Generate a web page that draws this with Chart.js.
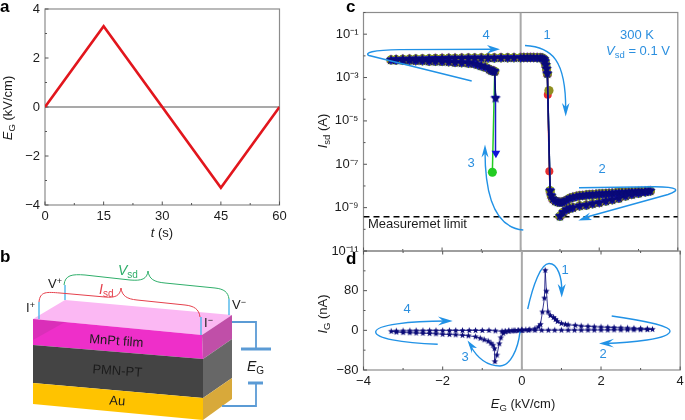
<!DOCTYPE html>
<html>
<head>
<meta charset="utf-8">
<script src="https://cdn.jsdelivr.net/npm/chart.js@4"></script>
<style>
  html, body { margin: 0; padding: 0; background: #fff; overflow: hidden; }
  #page { position: relative; width: 685px; height: 420px; font-family: "Liberation Sans", sans-serif; }
  #page canvas, #page svg { position: absolute; left: 0; top: 0; }
  text { font-family: "Liberation Sans", sans-serif; font-size: 13px; fill: #1c1c1c; }
  .lab { font-weight: bold; font-size: 17px; fill: #000; }
  .blue text, text.blue { fill: #2b8fdf; }
  .arrow { fill: none; stroke: #2192e6; stroke-width: 1.4; }
  .head { fill: #2192e6; stroke: none; }
  .wire { fill: none; stroke: #5b9bd5; stroke-width: 1.8; }
  .plate { fill: none; stroke: #5b9bd5; stroke-width: 3; }
  .lead { stroke: #4db6ea; stroke-width: 1.4; }
</style>
</head>
<body>
<div id="page">
  <canvas id="chartA" width="685" height="420"></canvas>
  <canvas id="chartC" width="685" height="420"></canvas>
  <canvas id="chartD" width="685" height="420"></canvas>

  <svg width="685" height="420" viewBox="0 0 685 420">
    <!-- panel letters -->
    <text class="lab" x="0" y="12">a</text>
    <text class="lab" x="0" y="262">b</text>
    <text class="lab" x="346" y="12">c</text>
    <text class="lab" x="346" y="264">d</text>

    <!-- axis titles -->
    <text x="162" y="237" text-anchor="middle"><tspan font-style="italic">t</tspan> (s)</text>
    <text transform="translate(12,108) rotate(-90)" text-anchor="middle"><tspan font-style="italic">E</tspan><tspan dy="3" font-size="9.5">G</tspan><tspan dy="-3"> (kV/cm)</tspan></text>
    <text transform="translate(327,131) rotate(-90)" text-anchor="middle"><tspan font-style="italic">I</tspan><tspan dy="3" font-size="9.5">sd</tspan><tspan dy="-3"> (A)</tspan></text>
    <text transform="translate(327,314) rotate(-90)" text-anchor="middle"><tspan font-style="italic">I</tspan><tspan dy="3" font-size="9.5">G</tspan><tspan dy="-3"> (nA)</tspan></text>
    <text x="523" y="408" text-anchor="middle"><tspan font-style="italic">E</tspan><tspan dy="3" font-size="9.5">G</tspan><tspan dy="-3"> (kV/cm)</tspan></text>

    <!-- panel b: device sketch -->
    <polygon points="33,319 65,300 232,315 202,335" fill="#fbb8f3"/>
    <polygon points="33,319 202,335 203,359 33,345" fill="#ee2fc9"/>
    <polygon points="202,335 232,315 232,339 203,359" fill="#c04fa8"/>
    <polygon points="33,340 65,322 202,335 33,319" fill="#a0308c" opacity="0.25"/>
    <polygon points="33,345 203,359 203,398 33,383" fill="#444444"/>
    <polygon points="203,359 232,339 232,378 203,398" fill="#676767"/>
    <polygon points="33,383 203,398 203,420 33,404" fill="#ffc300"/>
    <polygon points="203,398 232,378 232,399 203,420" fill="#d8a93a"/>

    <line class="lead" x1="39" y1="319" x2="39" y2="302"/>
    <line class="lead" x1="65" y1="300" x2="65" y2="285"/>
    <line class="lead" x1="201" y1="335" x2="201" y2="317"/>
    <line class="lead" x1="229" y1="315" x2="229" y2="299"/>

    <path d="M39 302 C40 291 47 292 60 293 L105 297 C115 298 120 296 121 288 C122 296 127 299 137 300 L185 305 C194 306 199 309 200 317" fill="none" stroke="#e5404c" stroke-width="1"/>
    <path d="M64 285 C65 275 72 274 85 275 L130 280 C142 281 147 279 148 271 C149 279 154 282 165 283 L215 288 C224 289 228 292 229 299" fill="none" stroke="#2fae6a" stroke-width="1"/>

    <text x="118" y="275" fill="#2fae6a" style="fill:#2fae6a;font-size:14px"><tspan font-style="italic">V</tspan><tspan dy="3" font-size="10">sd</tspan></text>
    <text x="99" y="294" style="fill:#e5404c;font-size:14px"><tspan font-style="italic">I</tspan><tspan dy="3" font-size="10">sd</tspan></text>
    <text x="48" y="288">V<tspan dy="-4" font-size="9">+</tspan></text>
    <text x="26" y="312">I<tspan dy="-4" font-size="9">+</tspan></text>
    <text x="204" y="327">I<tspan dy="-4" font-size="9">−</tspan></text>
    <text x="232" y="309">V<tspan dy="-4" font-size="9">−</tspan></text>
    <text transform="translate(116,345) rotate(4)" text-anchor="middle">MnPt film</text>
    <text transform="translate(117,375) rotate(4)" text-anchor="middle">PMN-PT</text>
    <text transform="translate(117,405) rotate(4)" text-anchor="middle">Au</text>

    <path class="wire" d="M232 322 H256 V349"/>
    <path class="plate" d="M241 349 H271"/>
    <path class="plate" d="M248 383 H263"/>
    <path class="wire" d="M256 383 V406 H222"/>
    <text x="247" y="371" style="font-size:14px"><tspan font-style="italic">E</tspan><tspan dy="3" font-size="10">G</tspan></text>

    <!-- panel c: sweep arrows -->
    <path class="arrow" d="M525 45.5 C552 47 566 60 565.7 110"/>
    <polygon class="head" points="565.7,116.5 562,103 565.7,107 569.5,103"/>
    <path class="arrow" d="M471.7 81 L369 55.5 C364 53 372 50 400 49.6 L495 49.3"/>
    <polygon class="head" points="500,49.3 487,45 491,49.3 487,53.5"/>
    <path class="arrow" d="M579 187.7 L655 186.8 C678 187 681 190 668 194.5 L585 217.5"/>
    <polygon class="head" points="578.3,220.5 590,212.5 587,217 592,220"/>
    <path class="arrow" d="M523.3 230 C500 228 485 205 485 151"/>
    <polygon class="head" points="485,144.5 481.5,157.5 485,153.5 488.5,157.5"/>
    <g class="blue">
      <text x="547" y="39" text-anchor="middle">1</text>
      <text x="486" y="39" text-anchor="middle">4</text>
      <text x="602" y="173" text-anchor="middle">2</text>
      <text x="471" y="167" text-anchor="middle">3</text>
      <text x="637" y="39" text-anchor="middle">300 K</text>
      <text x="638" y="55" text-anchor="middle"><tspan font-style="italic">V</tspan><tspan dy="3" font-size="9.5">sd</tspan><tspan dy="-3"> = 0.1 V</tspan></text>
    </g>
    <text x="368" y="228">Measuremet limit</text>

    <!-- panel d: sweep arrows -->
    <path class="arrow" d="M527.7 309 C533 285 541 263.5 549 263.5 C558 263.5 562 278 561.7 291"/>
    <polygon class="head" points="561.7,297.5 557.7,284 561.7,288 565.7,284"/>
    <path class="arrow" d="M611.7 316 C640 320 670 326 670 331 C670 339 630 343 605 343.5"/>
    <polygon class="head" points="599,343.5 614,338.7 608,343.5 614,347.5"/>
    <path class="arrow" d="M437.7 344.3 C400 343 375.7 338 375.7 332 C375.7 325 410 321 446 321"/>
    <polygon class="head" points="452.7,321 438,316.5 443,321 438,325.5"/>
    <path class="arrow" d="M520 331.7 C518 350 510 366 500 366 C485 366 476 356 470 345"/>
    <polygon class="head" points="467.5,340.5 477,348 472,347.5 472,353.5"/>
    <g class="blue">
      <text x="565" y="274" text-anchor="middle">1</text>
      <text x="603" y="358" text-anchor="middle">2</text>
      <text x="465" y="361" text-anchor="middle">3</text>
      <text x="407" y="313" text-anchor="middle">4</text>
    </g>
  </svg>
</div>

<script>
// panel a: gate field against time
const timeS = [0, 15, 45, 60];
const fieldKv = [0, 3.3, -3.3, 0];
const zeroT = [0, 60];
const zeroE = [0, 0];

// panel c: I_sd loop, written as one continuous path
// lower left arm, going out to -3.3
const backE = [-0.66, -0.7, -0.75, -0.8, -0.9, -1, -1.1, -1.2, -1.33, -1.5, -1.67, -1.83, -2, -2.17, -2.33, -2.5, -2.67, -2.83, -3, -3.17, -3.3];
const backI = [1.9e-3, 2.0e-3, 2.1e-3, 2.4e-3, 3e-3, 3.4e-3, 3.9e-3, 4.4e-3, 4.6e-3, 4.8e-3, 5e-3, 5.3e-3, 5.5e-3, 5.6e-3, 5.7e-3, 5.9e-3, 6e-3, 6.2e-3, 6.3e-3, 6.4e-3, 6.5e-3];
// top plateau, from -3.3 across zero to the drop
const topE = [-3.17, -3, -2.83, -2.67, -2.5, -2.33, -2.17, -2, -1.83, -1.67, -1.5, -1.33, -1.17, -1, -0.83, -0.67, -0.5, -0.33, -0.17, 0, 0.08, 0.17, 0.25, 0.33, 0.42, 0.5, 0.55, 0.6, 0.62, 0.64, 0.66, 0.68];
const topI = [6.7e-3, 6.9e-3, 7e-3, 7.1e-3, 7.2e-3, 7.3e-3, 7.5e-3, 7.6e-3, 7.7e-3, 7.7e-3, 7.8e-3, 7.9e-3, 7.9e-3, 8e-3, 8e-3, 8e-3, 8.1e-3, 8.1e-3, 8.2e-3, 8.2e-3, 8.3e-3, 8.3e-3, 8.3e-3, 8.3e-3, 8.2e-3, 8.1e-3, 7.9e-3, 7e-3, 5.5e-3, 3.8e-3, 2.5e-3, 1.5e-3];
// low branch after the drop: out to 3.3 and back to 1.0
const lowE = [0.75, 0.78, 0.82, 0.88, 0.95, 1, 1.05, 1.1, 1.17, 1.25, 1.33, 1.42, 1.5, 1.58, 1.67, 1.75, 1.83, 1.92, 2, 2.08, 2.17, 2.25, 2.33, 2.42, 2.5, 2.58, 2.67, 2.75, 2.83, 2.92, 3, 3.08, 3.17, 3.25, 3.3, 3.17, 3, 2.83, 2.67, 2.5, 2.33, 2.17, 2, 1.83, 1.67, 1.5, 1.33, 1.25, 1.17, 1.08, 1];
const lowI = [6e-9, 3.5e-9, 2.5e-9, 2e-9, 1.8e-9, 1.75e-9, 1.75e-9, 1.9e-9, 2.2e-9, 2.7e-9, 3e-9, 3.3e-9, 3.5e-9, 3.6e-9, 3.8e-9, 3.9e-9, 4e-9, 4.1e-9, 4.2e-9, 4.3e-9, 4.4e-9, 4.5e-9, 4.6e-9, 4.7e-9, 4.8e-9, 4.9e-9, 5e-9, 5.1e-9, 5.2e-9, 5.3e-9, 5.4e-9, 5.5e-9, 5.6e-9, 5.8e-9, 5.9e-9, 5.3e-9, 4.6e-9, 4e-9, 3.4e-9, 2.7e-9, 2.3e-9, 2e-9, 1.7e-9, 1.5e-9, 1.3e-9, 1.2e-9, 1e-9, 9.3e-10, 8e-10, 6e-10, 4e-10];
// points only one trace has inside the two drops
const starDropE = [-0.64];
const starDropI = [1.1e-4];
const blueDropE = [-0.63, -0.64];
const blueDropI = [3.2e-7, 1.1e-4];
const greenDropE = [-0.72];
const greenDropI = [4.3e-8];
const redDropE = [0.69, 0.73];
const redDropI = [1.6e-4, 4.8e-8];
const oliveDropE = [0.72];
const oliveDropI = [2.5e-4];
const limitE = [-4, 4];
const limitI = [3.8e-10, 3.8e-10];
const axisLineI = [1e-11, 1];
const axisLineE = [0, 0];

// panel d: I_G stars
const gateE = [0, 0.1, 0.2, 0.33, 0.42, 0.47, 0.52, 0.57, 0.59, 0.62, 0.66, 0.72, 0.8, 0.85, 0.9, 1, 1.1, 1.17, 1.35, 1.5, 1.67, 1.83, 2, 2.17, 2.33, 2.5, 2.67, 2.83, 3, 3.17, 3.3, 3.17, 3, 2.83, 2.67, 2.5, 2.33, 2.17, 2, 1.83, 1.67, 1.5, 1.33, 1.17, 1, 0.83, 0.67, 0.5, 0.33, 0.17, 0, -0.1, -0.2, -0.33, -0.42, -0.47, -0.53, -0.57, -0.63, -0.68, -0.69, -0.73, -0.78, -0.85, -0.95, -1.05, -1.17, -1.35, -1.5, -1.67, -1.83, -2, -2.17, -2.33, -2.5, -2.67, -2.83, -3, -3.17, -3.3, -3.17, -3, -2.83, -2.67, -2.5, -2.33, -2.17, -2, -1.83, -1.67, -1.5, -1.33, -1.17, -1, -0.83, -0.67, -0.5, -0.42, -0.33, -0.25, -0.17, -0.08, 0];
const gateI = [0.5, 1, 1.5, 3, 7, 12, 37, 65, 121, 79, 37, 30, 26, 22, 18, 14, 12, 11, 10, 8.5, 8, 7, 6.5, 6, 5.5, 5, 4.5, 4, 3.5, 2.8, 2, 1.5, 1.2, 1, 1, 0.8, 0.8, 0.6, 0.6, 0.5, 0.5, 0.4, 0.4, 0.3, 0.3, 0.2, 0.2, 0.2, 0.1, 0.1, 0, -0.3, -0.6, -1.2, -3, -6, -15, -27, -50, -63, -37, -30, -26, -22, -19, -16, -13, -11, -10, -9, -8.5, -8, -7, -6.5, -6, -5.5, -5, -4.5, -3.5, -2, -1.5, -1.2, -1, -0.8, -0.8, -0.6, -0.6, -0.5, -0.5, -0.4, -0.4, -0.3, -0.3, -0.3, -0.2, -1, -2, -2, -1.5, -1, -0.8, -0.4, 0];
const gateLineE = [0, 0];
const gateLineI = [-80, 160];

// tick lists
const aXMajor = [0, 15, 30, 45, 60];
const aXMinor = [7.5, 22.5, 37.5, 52.5];
const aYMajor = [-4, -2, 0, 2, 4];
const aYMinor = [-3, -1, 1, 3];
const eMajor = [-4, -2, 0, 2, 4];
const eMinor = [-3, -1, 1, 3];
const cYMajor = [1e-1, 1e-3, 1e-5, 1e-7, 1e-9, 1e-11];
const cYMinor = [1, 1e-2, 1e-4, 1e-6, 1e-8, 1e-10];
const cYLabels = ["10⁻¹", "10⁻³", "10⁻⁵", "10⁻⁷", "10⁻⁹", "10⁻¹¹"];
const dYMajor = [-80, 0, 80, 160];
const dYMinor = [-40, 40, 120];

function pts(es, vs) {
    return es.map((e, i) => ({ x: e, y: vs[i] }));
}

// one trace of the loop: left drop, back arm, top plateau, right drop, low branch
function loopTrace(leftE, leftI, rightE, rightI) {
    return [...pts(leftE, leftI), ...pts(backE, backI), ...pts(topE, topI), ...pts(rightE, rightI), ...pts(lowE, lowI)];
}

// chart.js "star" is an asterisk, the figure has five pointed ones
function starImage(r, color) {
    const size = Math.ceil(r * 2) + 2;
    const c = document.createElement("canvas");
    c.width = size;
    c.height = size;
    const ctx = c.getContext("2d");
    ctx.fillStyle = color;
    ctx.beginPath();
    for (let i = 0; i < 10; i++) {
        const rad = i % 2 === 0 ? r : r * 0.42;
        const a = -Math.PI / 2 + i * Math.PI / 5;
        const px = size / 2 + rad * Math.cos(a);
        const py = size / 2 + rad * Math.sin(a);
        if (i === 0) ctx.moveTo(px, py); else ctx.lineTo(px, py);
    }
    ctx.closePath();
    ctx.fill();
    return c;
}

// frame and inward ticks, the figure has ticks inside the box
const frameTicks = {
    id: "frameTicks",
    beforeDatasetsDraw(chart, args, opts) {
        const { ctx, chartArea: area, scales } = chart;
        ctx.save();
        ctx.strokeStyle = "#8c8c8c";
        ctx.lineWidth = 1.2;
        ctx.strokeRect(area.left, area.top, area.right - area.left, area.bottom - area.top);
        ctx.strokeStyle = "#555";
        ctx.lineWidth = 1;
        const xTick = (v, len) => {
            const px = scales.x.getPixelForValue(v);
            ctx.beginPath();
            ctx.moveTo(px, area.bottom);
            ctx.lineTo(px, area.bottom - len);
            if (opts.topTicks) {
                ctx.moveTo(px, area.top);
                ctx.lineTo(px, area.top + len);
            }
            ctx.stroke();
        };
        const yTick = (v, len) => {
            const py = scales.y.getPixelForValue(v);
            ctx.beginPath();
            ctx.moveTo(area.left, py);
            ctx.lineTo(area.left + len, py);
            ctx.stroke();
        };
        opts.xMajor.forEach(v => xTick(v, 3.5));
        opts.xMinor.forEach(v => xTick(v, 2));
        opts.yMajor.forEach(v => yTick(v, 3.5));
        opts.yMinor.forEach(v => yTick(v, 2));
        ctx.restore();
    }
};

const tickFont = { family: "'Liberation Sans', sans-serif", size: 13 };

// fix the plot box exactly, the axes hang outside of it
function makeX(min, max, ticksAt, showLabels) {
    return {
        type: "linear", min, max,
        grid: { display: false, drawTicks: false },
        border: { display: false },
        afterBuildTicks: s => { s.ticks = ticksAt.map(v => ({ value: v })); },
        afterFit: s => { s.height = 22; s.paddingLeft = 0; s.paddingRight = 0; },
        ticks: {
            display: showLabels, autoSkip: false, maxRotation: 0, padding: 4,
            color: "#1c1c1c", font: tickFont,
            callback: v => String(v).replace("-", "−")
        }
    };
}

function makeY(type, min, max, ticksAt, format) {
    return {
        type, min, max,
        grid: { display: false, drawTicks: false },
        border: { display: false },
        afterBuildTicks: s => { s.ticks = ticksAt.map(v => ({ value: v })); },
        afterFit: s => { s.width = 40; s.paddingTop = 0; s.paddingBottom = 0; },
        ticks: {
            autoSkip: false, padding: 5, color: "#1c1c1c", font: tickFont,
            callback: format
        }
    };
}

function boxOptions(left, top, right, bottom, scales, ticks) {
    return {
        responsive: false,
        animation: false,
        events: [],
        layout: {
            padding: {
                left: left - 40,
                top: top,
                right: 685 - right,
                bottom: 420 - bottom - 22
            }
        },
        scales,
        plugins: {
            legend: { display: false },
            tooltip: { enabled: false },
            frameTicks: ticks
        }
    };
}

new Chart(document.getElementById("chartA"), {
    type: "scatter",
    plugins: [frameTicks],
    data: {
        datasets: [
            { data: pts(timeS, fieldKv), showLine: true, borderColor: "#e2161d", borderWidth: 2.6, pointRadius: 0, borderJoinStyle: "miter" },
            { data: pts(zeroT, zeroE), showLine: true, borderColor: "#555", borderWidth: 1.2, pointRadius: 0 }
        ]
    },
    options: boxOptions(45, 9, 279.5, 205, {
        x: makeX(0, 60, aXMajor, true),
        y: makeY("linear", -4, 4, aYMajor, v => String(v).replace("-", "−"))
    }, { xMajor: aXMajor, xMinor: aXMinor, yMajor: aYMajor, yMinor: aYMinor })
});

const bigStar = starImage(5.6, "#0a0a78");
const smallStar = starImage(3.4, "#0a0a78");

new Chart(document.getElementById("chartC"), {
    type: "scatter",
    plugins: [frameTicks],
    data: {
        datasets: [
            { data: loopTrace(starDropE, starDropI, [], []), showLine: true, borderColor: "#0a0a78", borderWidth: 1.6, pointStyle: bigStar, pointRadius: 5.6 },
            { data: loopTrace(blueDropE, blueDropI, [], []), showLine: true, borderColor: "#1a1ac8", borderWidth: 1.5, pointStyle: "triangle", rotation: 180, pointRadius: 5, pointBackgroundColor: "#1212d8", pointBorderWidth: 0 },
            { data: loopTrace([], [], oliveDropE, oliveDropI), showLine: false, pointStyle: "circle", pointRadius: 4.6, pointBackgroundColor: "#8f8f20", pointBorderWidth: 0 },
            { data: loopTrace([], [], [], []), showLine: false, pointStyle: "triangle", pointRadius: 5.4, pointBackgroundColor: "#d020c8", pointBorderWidth: 0 },
            { data: loopTrace(greenDropE, greenDropI, [], []), showLine: true, borderColor: "#22cc22", borderWidth: 1.5, pointStyle: "circle", pointRadius: 4.5, pointBackgroundColor: "#22cc22", pointBorderWidth: 0 },
            { data: loopTrace([], [], redDropE, redDropI), showLine: true, borderColor: "#e02020", borderWidth: 1.5, pointStyle: "circle", pointRadius: 4, pointBackgroundColor: "#e83030", pointBorderWidth: 0 },
            { data: pts(limitE, limitI), showLine: true, borderColor: "#000", borderWidth: 1.4, borderDash: [6, 4], pointRadius: 0 },
            { data: pts(axisLineE, axisLineI), showLine: true, borderColor: "#a9a9a9", borderWidth: 2, pointRadius: 0 }
        ]
    },
    options: boxOptions(363.5, 12.5, 682.7, 251, {
        x: makeX(-4, 4, eMajor, false),
        y: makeY("logarithmic", 1e-11, 1, cYMajor, v => cYLabels[cYMajor.findIndex(t => Math.abs(Math.log10(t) - Math.log10(v)) < 0.01)] || "")
    }, { xMajor: eMajor, xMinor: eMinor, yMajor: cYMajor, yMinor: cYMinor })
});

new Chart(document.getElementById("chartD"), {
    type: "scatter",
    plugins: [frameTicks],
    data: {
        datasets: [
            { data: pts(gateE, gateI), showLine: true, borderColor: "#0a0a78", borderWidth: 0.8, pointStyle: smallStar, pointRadius: 3.4 },
            { data: pts(gateLineE, gateLineI), showLine: true, borderColor: "#a9a9a9", borderWidth: 2, pointRadius: 0 }
        ]
    },
    options: boxOptions(363.5, 251, 682.7, 370, {
        x: makeX(-4, 4, eMajor, true),
        y: makeY("linear", -80, 160, [-80, 0, 80], v => String(v).replace("-", "−"))
    }, { xMajor: eMajor, xMinor: eMinor, yMajor: dYMajor, yMinor: dYMinor, topTicks: true })
});
</script>
</body>
</html>
